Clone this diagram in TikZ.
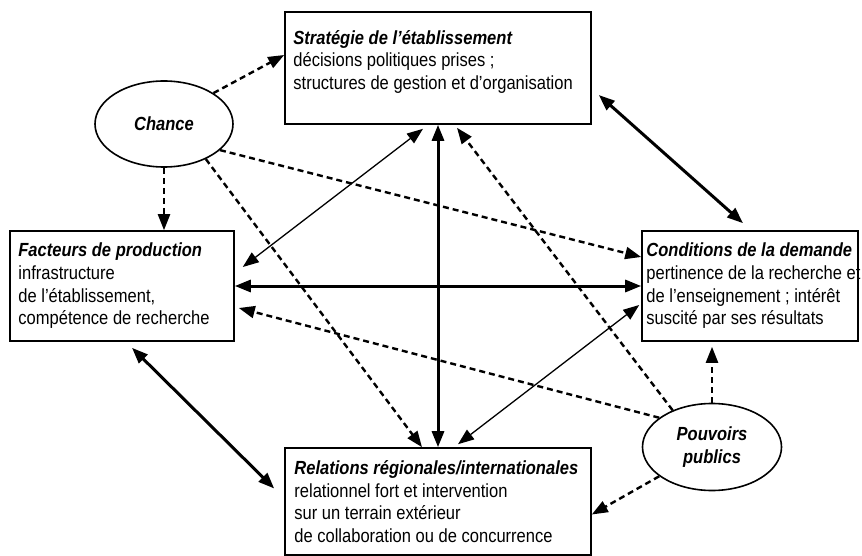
\documentclass[tikz,border=0pt]{standalone}
\usepackage{fontspec}
\setmainfont{Liberation Sans}[FakeStretch=0.87]
\usetikzlibrary{arrows.meta,positioning,shapes.geometric}
\tikzset{
    box/.style={draw, line width=1.6pt, inner sep=0pt},
    txt/.style={align=left, inner sep=0pt, font=\fontsize{19}{22.7}\selectfont},
    blob/.style={draw, ellipse, line width=1.6pt, inner sep=0pt, align=center,
        font=\fontsize{19}{22.7}\selectfont\bfseries\itshape},
    dashline/.style={->, line width=2.4pt, dash pattern=on 6pt off 4pt},
    heavyline/.style={<->, line width=3pt},
    lightline/.style={<->, line width=1.3pt},
}
\newcommand{\titre}[1]{\textbf{\textit{#1}}}
\begin{document}
\begin{tikzpicture}[x=1pt, y=-1pt, >={Triangle[length=16pt,width=12pt]}]
    \useasboundingbox (0,0) rectangle (862,556);
    % boxes
    \node[box, minimum width=306pt, minimum height=112pt] (strat) at (438,68) {};
    \node[txt, right=9pt of strat.west, yshift=6pt] (strat-t) {\titre{Stratégie de l’établissement}\\décisions politiques prises ;\\structures de gestion et d’organisation};
    \node[box, minimum width=224pt, minimum height=110pt] (fact) at (122,286) {};
    \node[txt, right=9pt of fact.west] (fact-t) {\titre{Facteurs de production}\\infrastructure\\de l’établissement,\\compétence de recherche};
    \node[box, minimum width=216pt, minimum height=110pt] (cond) at (750,286) {};
    \node[txt, right=5pt of cond.west] (cond-t) {\titre{Conditions de la demande}\\pertinence de la recherche et\\de l’enseignement ; intérêt\\suscité par ses résultats};
    \node[box, minimum width=306pt, minimum height=107pt] (rel) at (438,501.5) {};
    \node[txt, right=10pt of rel.west] (rel-t) {\titre{Relations régionales/internationales}\\relationnel fort et intervention\\sur un terrain extérieur\\de collaboration ou de concurrence};
    % ellipses
    \node[blob, minimum width=138pt, minimum height=86pt] (chance) at (164,124) {Chance};
    \node[blob, minimum width=139pt, minimum height=87pt] (pouv) at (712,447) {Pouvoirs\\publics};
    % connectors
    \draw[dashline] (chance.32) -- ([yshift=13pt]strat.west);
    \draw[dashline] (chance.south) -- (chance.south |- fact.north);
    \draw[dashline] (chance.-25) -- ([yshift=29pt]cond.west);
    \draw[dashline] (chance.-40) -- ([xshift=-16pt]rel.north);
    \draw[heavyline] ([xshift=7pt,yshift=-27pt]strat.east) -- ([xshift=-7pt,yshift=7pt]cond.north);
    \draw[lightline] ([xshift=-15pt,yshift=-4pt]strat.south) -- ([xshift=8pt,yshift=19pt]fact.east);
    \draw[heavyline] (strat.south) -- (rel.north);
    \draw[heavyline] (fact.east) -- (cond.west);
    \draw[dashline] (pouv.137) -- ([xshift=19pt,yshift=-3pt]strat.south);
    \draw[dashline] (pouv.151) -- ([xshift=4pt,yshift=-22pt]fact.east);
    \draw[dashline, shorten >=5pt] (pouv.north) -- (pouv.north |- cond.south);
    \draw[dashline] (pouv.209) -- ([yshift=-13pt]rel.east);
    \draw[heavyline] ([xshift=10pt,yshift=-6pt]fact.south) -- ([xshift=-10pt,yshift=13pt]rel.west);
    \draw[lightline] ([xshift=20pt,yshift=3pt]rel.north) -- ([xshift=-2pt,yshift=-19pt]cond.west);
\end{tikzpicture}
\end{document}
